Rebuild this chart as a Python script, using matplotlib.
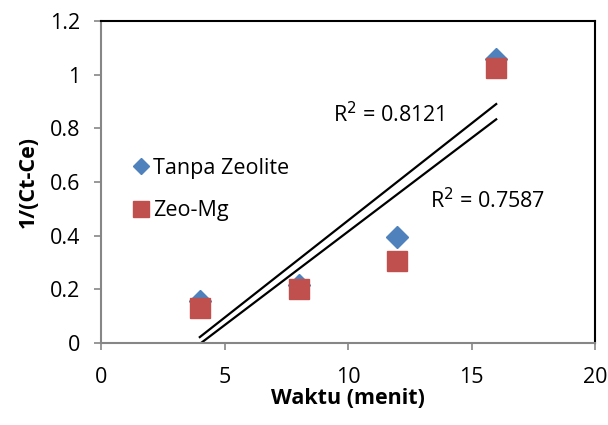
import matplotlib.pyplot as plt
import numpy as np

plt.rcParams['font.family'] = ['Open Sans', 'DejaVu Sans']

waktu = [4, 8, 12, 16]
tanpa_zeolite = [0.155, 0.215, 0.395, 1.06]
zeo_mg = [0.13, 0.20, 0.305, 1.025]
r2_labels = ['R$^2$ = 0.8121', 'R$^2$ = 0.7587']

fig = plt.figure(figsize=(6.08, 4.25), dpi=100)
ax = fig.add_axes([101/608, 1 - 343/425, 494/608, 322/425])

ax.plot(waktu, tanpa_zeolite, 'D', color='#4f81bd', markersize=11, label='Tanpa Zeolite', zorder=3)
ax.plot(waktu, zeo_mg, 's', color='#c0504d', markersize=15, label='Zeo-Mg', zorder=4)

# linear trendlines over the data range
xs = np.array([min(waktu), max(waktu)])
for y in (tanpa_zeolite, zeo_mg):
    m, b = np.polyfit(waktu, y, 1)
    ax.plot(xs, m * xs + b, color='black', lw=1.6, zorder=2)

ax.text(9.4, 0.85, r2_labels[0], fontsize=15.5, ha='left', va='center')
ax.text(13.3, 0.53, r2_labels[1], fontsize=15.5, ha='left', va='center')

ax.set_xlim(0, 20)
ax.set_ylim(0, 1.2)
ax.set_xticks([0, 5, 10, 15, 20])
ax.set_yticks([0, 0.2, 0.4, 0.6, 0.8, 1.0, 1.2])
ax.set_yticklabels(['0', '0.2', '0.4', '0.6', '0.8', '1', '1.2'])
ax.tick_params(labelsize=15.5, color='#868686', length=5, width=1.2)
ax.tick_params(axis='x', pad=12)
ax.tick_params(axis='y', pad=10)
for s in ('left', 'bottom'):
    ax.spines[s].set_color('#868686')
    ax.spines[s].set_linewidth(1.5)
for s in ('top', 'right'):
    ax.spines[s].set_color('black')
    ax.spines[s].set_linewidth(1.5)

ax.set_xlabel('Waktu (menit)', fontsize=15.5, fontweight='bold', labelpad=0)
ax.set_ylabel('1/(Ct-Ce)', fontsize=15.5, fontweight='bold', labelpad=8)

leg = ax.legend(loc='upper left', bbox_to_anchor=(0.02, 0.635), frameon=False,
                fontsize=15.5, handletextpad=0.05, labelspacing=1.0, handlelength=1.0,
                markerscale=0.75)

plt.savefig('out.png', dpi=100)
